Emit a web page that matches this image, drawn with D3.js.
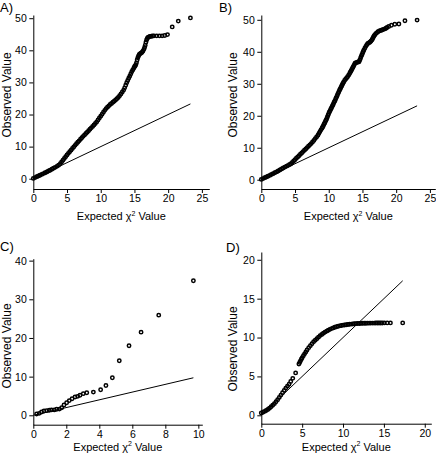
<!DOCTYPE html>
<html><head><meta charset="utf-8">
<script src="https://cdn.jsdelivr.net/npm/d3@7"></script>
<style>
body{margin:0;background:#fff;}
svg text{font-family:"Liberation Sans",Arial,Helvetica,sans-serif;fill:#000;}
</style></head>
<body><svg id="chart" width="436" height="456"></svg>
<script>
// ---- data: [expected chi-square, observed] ----
const pointsA=[[0,0.1],[0.25,0.35],[0.5,0.6],[0.75,0.85],[1,1.1],[1.25,1.35],[1.5,1.6],[1.75,1.85],[2,2.1],[2.25,2.4],[2.5,2.65],[2.75,2.95],[3,3.25],[3.25,3.55],[3.5,3.85],[3.75,4.2],
[4,4.7],[4.2,5.2],[4.4,5.75],[4.6,6.3],[4.8,6.85],[5,7.4],[5.2,7.9],[5.4,8.4],[5.6,8.9],[5.8,9.4],[6,9.9],[6.2,10.4],[6.4,10.9],[6.6,11.35],[6.8,11.8],[7,12.3],[7.2,12.75],[7.4,13.2],[7.6,13.65],[7.8,14.1],
[8,14.5],[8.2,14.95],[8.4,15.4],[8.6,15.85],[8.8,16.3],[9,16.75],[9.2,17.2],[9.4,17.7],[9.6,18.3],[9.8,18.9],[10,19.5],[10.2,20.1],[10.4,20.7],[10.6,21.3],[10.8,21.85],[11,22.3],[11.2,22.7],[11.4,23.1],[11.6,23.45],[11.8,23.8],
[12,24.15],[12.2,24.5],[12.4,24.9],[12.6,25.3],[12.8,25.85],[13,26.4],[13.2,27],[13.4,27.6],[13.55,28.3],[13.7,29.1],[13.85,29.9],[14,30.6],[14.15,31.3],[14.3,31.9],[14.45,32.6],[14.6,33.3],[14.75,33.9],[14.9,34.4],
[15,34.9],[15.1,35.1],[15.2,35.5],[15.3,36.1],[15.4,37],[15.5,37.7],[15.6,38.2],[15.7,38.6],[15.8,38.9],[15.95,39.1],[16.1,39.3],[16.25,39.7],[16.4,40.3],[16.5,40.9],[16.6,41.6],[16.7,42.5],[16.8,43.2],[16.9,43.7],[17,44],
[17.15,44.2],[17.3,44.3],[17.5,44.4],[17.7,44.45],[17.9,44.5],[18.3,44.5],[18.7,44.5],[19.1,44.5],[19.5,44.6],[19.9,44.9],[20.6,47.3],[21.5,49.1],[23.3,50.1]];

const pointsB=[[0,0.1],[0.25,0.35],[0.5,0.6],[0.75,0.85],[1,1.1],[1.25,1.35],[1.5,1.65],[1.75,1.9],[2,2.2],[2.25,2.45],[2.5,2.75],[2.75,3.05],[3,3.35],[3.25,3.65],[3.5,3.95],[3.75,4.25],
[4,4.5],[4.2,4.75],[4.4,5],[4.6,5.4],[4.8,5.85],[5,6.25],[5.2,6.7],[5.4,7.1],[5.6,7.5],[5.8,7.95],[6,8.35],[6.2,8.8],[6.4,9.2],[6.6,9.6],[6.8,10.05],[7,10.45],[7.2,10.9],[7.4,11.3],[7.6,11.8],[7.8,12.3],
[8,12.85],[8.2,13.35],[8.4,13.9],[8.55,14.5],[8.7,15.05],[8.85,15.6],[9,16.1],[9.1,16.5],[9.2,16.9],[9.3,17.35],[9.4,17.75],[9.5,18.2],[9.6,18.6],[9.7,19.1],[9.8,19.6],[9.9,20.15],[10,20.7],[10.1,21.2],[10.2,21.6],
[10.3,22.05],[10.4,22.45],[10.5,22.9],[10.6,23.3],[10.7,23.75],[10.8,24.2],[10.9,24.65],[11,25.1],[11.1,25.6],[11.2,26.05],[11.3,26.55],[11.4,27],[11.5,27.5],[11.6,28],[11.7,28.4],[11.8,28.85],[11.9,29.25],[12,29.7],
[12.1,30.1],[12.2,30.5],[12.35,31],[12.5,31.4],[12.65,31.8],[12.8,32.2],[12.95,32.7],[13.1,33.2],[13.2,33.6],[13.3,34],[13.4,34.4],[13.5,34.8],[13.6,35.2],[13.7,35.6],[13.8,36],[13.9,36.4],[14.05,36.6],[14.2,36.7],
[14.35,36.8],[14.5,36.9],[14.6,37.4],[14.7,37.9],[14.8,38.5],[14.9,39],[15,39.5],[15.1,40],[15.2,40.5],[15.35,41.1],[15.5,41.7],[15.65,42.2],[15.8,42.6],[15.95,42.8],[16.1,43],[16.25,43.3],[16.4,43.7],[16.5,44.1],
[16.6,44.5],[16.7,44.9],[16.8,45.2],[16.95,45.6],[17.1,45.9],[17.3,46.3],[17.5,46.5],[17.7,46.65],[17.9,46.8],[18.1,47],[18.3,47.15],[18.5,47.35],[18.65,47.6],[18.9,47.9],[19.3,48.3],[19.8,48.6],[20.4,48.7],[21.3,49.7],[23.1,49.9]];

const pointsC=[[0.2,0.35],[0.36,0.5],[0.5,0.85],[0.65,1.1],[0.81,1.2],[0.97,1.3],[1.1,1.4],[1.27,1.4],[1.42,1.55],[1.58,1.6],[1.72,1.95],[1.86,2.65],[2.02,3.25],[2.18,3.8],[2.35,4.3],[2.53,4.75],[2.69,4.9],
[2.83,5.2],[3.03,5.6],[3.24,5.85],[3.64,6],[4.08,6.6],[4.4,7.7],[4.79,9.7],[5.21,14.1],[5.8,18],[6.53,21.5],[7.6,25.9],[9.7,34.8]];

const pointsD=[[0,0.3],[0.2,0.4],[0.4,0.5],[0.6,0.62],[0.8,0.75],[1,0.9],[1.2,1.1],[1.4,1.3],[1.6,1.5],[1.8,1.75],[2,2],[2.2,2.3],[2.4,2.6],[2.6,2.9],[2.8,3.2],[3,3.5],
[3.2,3.75],[3.4,4],[3.6,4.35],[3.85,4.75],[4.2,5.45],
[4.6,6.6],[4.7,6.8],[4.8,7],[4.9,7.2],[5,7.4],[5.15,7.65],[5.3,7.9],[5.45,8.15],[5.6,8.4],[5.8,8.7],[6,8.95],[6.2,9.2],[6.4,9.45],[6.6,9.65],[6.8,9.85],[7,10.05],[7.2,10.25],[7.4,10.4],[7.6,10.55],[7.8,10.7],
[8,10.82],[8.2,10.94],[8.4,11.05],[8.6,11.15],[8.8,11.24],[9,11.32],[9.2,11.39],[9.4,11.45],[9.6,11.5],[9.8,11.55],[10,11.59],[10.2,11.62],[10.4,11.65],[10.6,11.68],[10.8,11.71],[11,11.73],[11.2,11.75],[11.4,11.77],
[11.6,11.79],[11.8,11.8],[12,11.81],[12.2,11.82],[12.4,11.83],[12.6,11.84],[12.8,11.84],[13,11.85],[13.2,11.85],[13.4,11.86],[13.6,11.86],[13.8,11.86],[14,11.87],[14.2,11.87],[14.4,11.87],[14.6,11.87],[14.8,11.87],
[15.05,11.88],[15.4,11.88],[15.8,11.88],[17.3,11.88]];

const ticksX_AB=[0,5,10,15,20,25], ticksY_AB=[0,10,20,30,40,50];
const ticksX_C=[0,2,4,6,8,10], ticksY_C=[0,10,20,30,40];
const ticksX_D=[0,5,10,15,20], ticksY_D=[0,5,10,15,20];
const panelLabels=["A)","B)","C)","D)"];

// ---- layout ----
const panels=[
 {label:panelLabels[0],pts:pointsA,xT:ticksX_AB,yT:ticksY_AB,xDom:[0,26.1],yDom:[-3.2,51],xR:[33.3,209.3],yR:[189,15],lab:[0,12],yt:[7,95],xtY:220},
 {label:panelLabels[1],pts:pointsB,xT:ticksX_AB,yT:ticksY_AB,xDom:[0,25.8],yDom:[-2.9,51.5],xR:[261.3,435.3],yR:[189,15],lab:[219,12],yt:[233,95],xtY:220},
 {label:panelLabels[2],pts:pointsC,xT:ticksX_C,yT:ticksY_C,xDom:[0,10.24],yDom:[-2.43,40.5],xR:[33.3,202.3],yR:[424.7,258.7],lab:[0,251],yt:[7,346],xtY:450.5},
 {label:panelLabels[3],pts:pointsD,xT:ticksX_D,yT:ticksY_D,xDom:[0,20.8],yDom:[-1.08,21],xR:[261.3,431.3],yR:[423.7,252],lab:[226,252],yt:[233,349],xtY:450.5}
];

const svg=d3.select("#chart");
panels.forEach(p=>{
  const x=d3.scaleLinear().domain(p.xDom).range(p.xR);
  const y=d3.scaleLinear().domain(p.yDom).range(p.yR);
  const g=svg.append("g");
  const gx=g.append("g").attr("transform",`translate(0,${p.yR[0]})`)
    .call(d3.axisBottom(x).tickValues(p.xT).tickSize(4).tickSizeOuter(0).tickPadding(1.5));
  const gy=g.append("g").attr("transform",`translate(${p.xR[0]},0)`)
    .call(d3.axisLeft(y).tickValues(p.yT).tickSize(4).tickSizeOuter(0).tickPadding(2.5));
  [gx,gy].forEach(a=>{
    a.attr("font-size",10.5).attr("font-family",null);
    a.selectAll("path,line").attr("stroke","#000").attr("stroke-width",1);
  });
  const m=d3.max(p.pts,d=>d[0]);
  g.append("line").attr("x1",x(0)).attr("y1",y(0)).attr("x2",x(m)).attr("y2",y(m))
    .attr("stroke","#000").attr("stroke-width",1);
  g.append("g").selectAll("circle").data(p.pts).join("circle")
    .attr("cx",d=>x(d[0])).attr("cy",d=>y(d[1])).attr("r",1.7)
    .attr("fill","none").attr("stroke","#000").attr("stroke-width",1.5);
  // titles
  const xt=g.append("text").attr("x",(p.xR[0]+p.xR[1])/2).attr("y",p.xtY)
    .attr("text-anchor","middle").attr("font-size",11);
  xt.append("tspan").text("Expected χ");
  xt.append("tspan").attr("font-size",7).attr("dy",-4.5).text("2");
  xt.append("tspan").attr("dy",4.5).text(" Value");
  g.append("text").attr("transform",`translate(${p.yt[0]},${p.yt[1]}) rotate(-90)`)
    .attr("text-anchor","middle").attr("dominant-baseline","central").attr("font-size",12).text("Observed Value");
  g.append("text").attr("x",p.lab[0]).attr("y",p.lab[1]).attr("font-size",13).text(p.label);
});
</script>
</body></html>
